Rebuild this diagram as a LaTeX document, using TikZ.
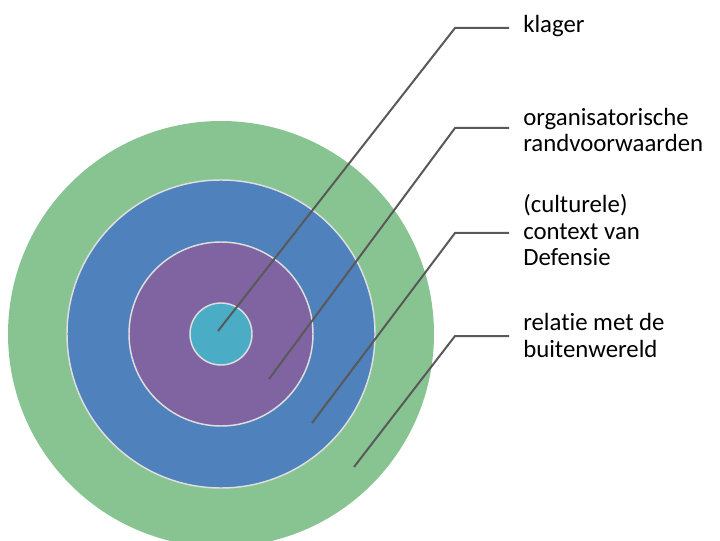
\documentclass[tikz,border=0pt]{standalone}
\usepackage{fontspec}
\setmainfont{Carlito}[Ligatures=NoCommon]
\usetikzlibrary{calc}
\definecolor{OuterClr}{RGB}{136,196,146}
\definecolor{BlueClr}{RGB}{79,129,189}
\definecolor{PurpleClr}{RGB}{128,100,162}
\definecolor{AquaClr}{RGB}{75,172,198}
\definecolor{RimClr}{RGB}{222,222,222}
\definecolor{LeaderClr}{RGB}{89,89,89}

\begin{document}
\begin{tikzpicture}[x=0.75pt,y=-0.75pt,
  ring/.style={fill=#1,draw=RimClr,line width=1.1pt},
  leader/.style={draw=LeaderClr,line width=1.5pt},
  lbl/.style={anchor=base west,inner sep=0pt,align=left,
    font=\fontsize{18.6}{20.2}\selectfont}]
\useasboundingbox (0,0) rectangle (720,541);

\coordinate (O) at (221,334);

% The four rings, outside in.
\path[fill=OuterClr] (O) circle [radius=213];
\path[ring=BlueClr] (O) circle [radius=154];
\path[ring=PurpleClr] (O) circle [radius=92];
\path[ring=AquaClr] (O) circle [radius=31];

% Points inside the rings.
\coordinate (P1) at (218,331);
\coordinate (P2) at (269,379);
\coordinate (P3) at (312,423);
\coordinate (P4) at (354,467);

% Elbows and ends of the leaders.
\coordinate (E1) at (455,28);
\coordinate (E2) at (455,128);
\coordinate (E3) at (455,233);
\coordinate (E4) at (455,336);
\coordinate (H1) at (509,28);
\coordinate (H2) at (509,128);
\coordinate (H3) at (509,233);
\coordinate (H4) at (509,336);

% Labels (base = last line).
\node[lbl] (L1) at (523,33) {klager};
\node[lbl] (L2) at (523,152) {organisatorische\\randvoorwaarden};
\node[lbl] (L3) at (523,266) {(culturele)\\context van\\Defensie};
\node[lbl] (L4) at (523,357) {relatie met de\\buitenwereld};

% Draw leaders.
\draw[leader] (P1) -- (E1) -- (H1);
\draw[leader] (P2) -- (E2) -- (H2);
\draw[leader] (P3) -- (E3) -- (H3);
\draw[leader] (P4) -- (E4) -- (H4);

\end{tikzpicture}
\end{document}
